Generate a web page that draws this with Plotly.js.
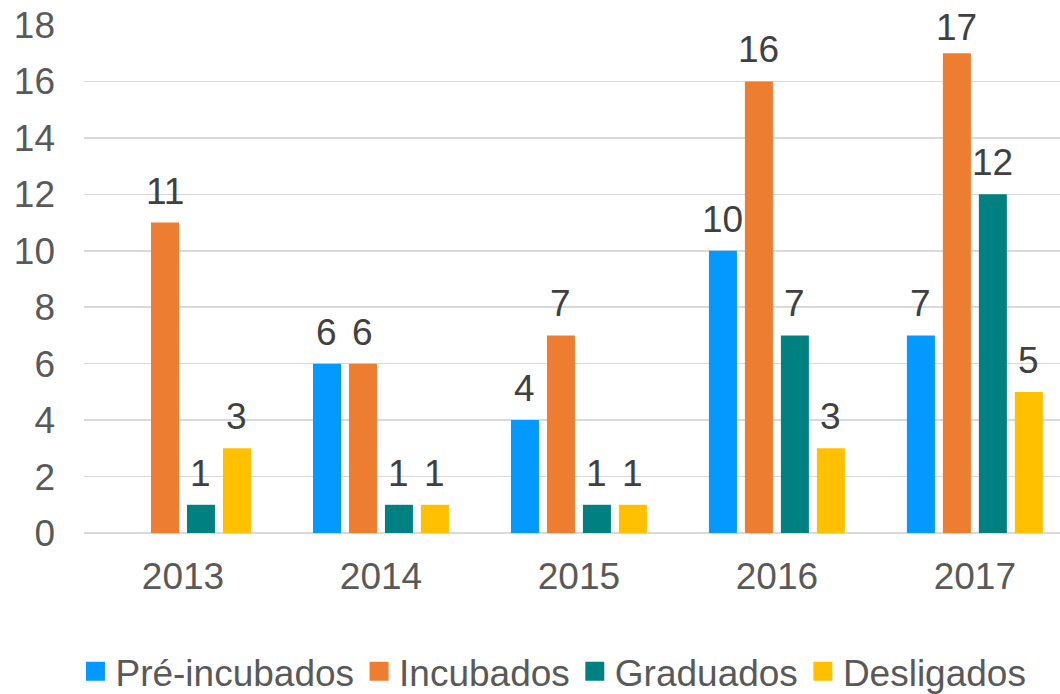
<!DOCTYPE html>
<html>
<head>
<meta charset="utf-8">
<script src="https://cdn.plot.ly/plotly-3.0.1.min.js"></script>
<style>html,body{margin:0;padding:0;overflow:hidden;background:#fff}</style>
</head>
<body>
<div id="chart" style="width:1060px;height:694px"></div>
<script>
const years = ['2013', '2014', '2015', '2016', '2017'];
const preIncubados = [null, 6, 4, 10, 7];
const incubados = [11, 6, 7, 16, 17];
const graduados = [1, 1, 1, 7, 12];
const desligados = [3, 1, 1, 3, 5];
const seriesNames = ['Pré-incubados', 'Incubados', 'Graduados', 'Desligados'];
const seriesColors = ['#0399FE', '#ED7D31', '#008080', '#FFC000'];
const seriesValues = [preIncubados, incubados, graduados, desligados];

const font = 'Liberation Sans, Arial, sans-serif';
const yMax = 18;

const traces = seriesValues.map((vals, i) => ({
  type: 'bar',
  name: seriesNames[i],
  x: years,
  y: vals,
  marker: {color: seriesColors[i], line: {width: 0}},
  showlegend: false,
  hoverinfo: 'none'
}));

// legend entries with larger square swatches
seriesNames.forEach((name, i) => {
  traces.push({
    type: 'scatter', mode: 'markers', name: name,
    x: [null], y: [null],
    marker: {symbol: 'square', size: 16, color: seriesColors[i],
             line: {width: 3, color: seriesColors[i]}},
    showlegend: true, hoverinfo: 'none'
  });
});

const slot = 36;
const annotations = [];
seriesValues.forEach((vals, i) => {
  vals.forEach((v, j) => {
    if (v === null) return;
    annotations.push({
      x: j, y: v, xref: 'x', yref: 'y',
      text: String(v), showarrow: false,
      xanchor: 'center', yanchor: 'bottom',
      xshift: (i - 1.5) * slot,
      yshift: v >= yMax - 1 ? 3 : 9,
      font: {family: font, size: 37, color: '#404040'}
    });
  });
});

const layout = {
  width: 1060, height: 694,
  margin: {l: 84, r: 0, t: 25, b: 161},
  paper_bgcolor: '#fff', plot_bgcolor: '#fff',
  barmode: 'group', bargap: 0.273, bargroupgap: 0.222,
  font: {family: font, size: 37, color: '#595959'},
  xaxis: {
    type: 'category', range: [-0.5, 4.43],
    showgrid: false, zeroline: false,
    showline: false, ticks: '',
    ticklabelstandoff: 18,
    tickfont: {family: font, size: 37, color: '#595959'}
  },
  yaxis: {
    range: [0, yMax], dtick: 2, tick0: 0,
    showgrid: true, gridcolor: '#D9D9D9', gridwidth: 1.5,
    zeroline: true, zerolinecolor: '#D9D9D9', zerolinewidth: 1.5,
    showline: false, ticks: '',
    ticklabelstandoff: 28,
    tickfont: {family: font, size: 37, color: '#595959'}
  },
  showlegend: true,
  legend: {
    orientation: 'h', x: 0.481, xanchor: 'center',
    yref: 'container', y: 0.032, yanchor: 'middle',
    font: {family: font, size: 37, color: '#595959'},
    itemsizing: 'trace', traceorder: 'normal'
  },
  annotations: annotations
};

Plotly.newPlot('chart', traces, layout, {displayModeBar: false, staticPlot: true});
</script>
</body>
</html>
